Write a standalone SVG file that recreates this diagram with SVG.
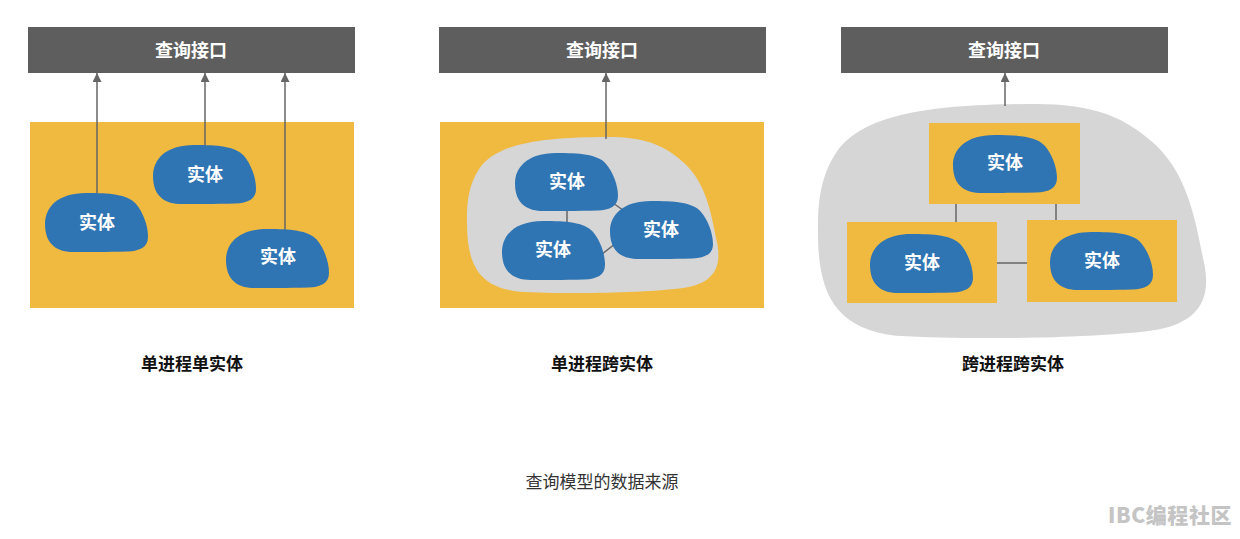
<svg xmlns="http://www.w3.org/2000/svg" xmlns:xlink="http://www.w3.org/1999/xlink" width="1240" height="539" viewBox="0 0 1240 539">
<style>
.bar{fill:#5e5e5e}
.yellow{fill:#f0ba40}
.gray{fill:#d6d6d6}
.ent{fill:#3075b3}
.t{font-family:"Noto Sans CJK SC","Noto Sans",sans-serif;text-anchor:middle}
.wt{fill:#fff;font-size:18px;font-weight:700}
.lbl{fill:#111;font-size:17px;font-weight:700}
.cap{fill:#333;font-size:17px}
.wm{fill:#c4c4c4;font-size:21px;font-weight:900;text-anchor:start;letter-spacing:0.6px}
.arr{stroke:#666;stroke-width:1.5;fill:none;marker-end:url(#ah)}
.ln{stroke:#666;stroke-width:1.5;fill:none}
</style>
<defs>
<marker id="ah" markerUnits="userSpaceOnUse" markerWidth="9" markerHeight="9" viewBox="0 0 10 10" refX="10" refY="5" orient="auto">
<path d="M0,0 L10,5 L0,10 z" fill="#666"/>
</marker>
<path id="eb" d="M40,0 C62,0 80,2 88,18 C95,32 100,55 100,74 C100,92 92,98 80,99 C60,100 40,100 28,100 C12,100 0,88 0,52 C0,25 12,0 40,0 Z"/>
<path id="gb" d="M56,0 C30,0 12,4 5,20 C0,32 0,45 0,55 C0,80 4,96 20,99 C40,101 70,100 85,97 C100,94 101,80 99,66 C97,50 95,28 85,15 C78,5 70,0 56,0 Z"/>
</defs>
<rect width="1240" height="539" fill="#fff"/>

<g id="panel1">
<g id="api1"><rect class="bar" x="28" y="27" width="327" height="46"/><text class="t wt" x="191" y="57">查询接口</text></g>
<rect id="proc1" class="yellow" x="30" y="122" width="324" height="186"/>
</g>
<g id="panel2">
<g id="api2"><rect class="bar" x="439" y="27" width="327" height="46"/><text class="t wt" x="602" y="57">查询接口</text></g>
<rect id="proc2" class="yellow" x="440" y="122" width="324" height="186"/>
<use id="group2" class="gray" xlink:href="#gb" transform="translate(467,137) scale(2.52,1.56)"/>
</g>
<g id="panel3">
<g id="api3"><rect class="bar" x="841" y="27" width="327" height="46"/><text class="t wt" x="1004" y="57">查询接口</text></g>
<use id="group3" class="gray" xlink:href="#gb" transform="translate(818,104) scale(3.89,2.34)"/>
<rect id="proc3a" class="yellow" x="929" y="123" width="151" height="81"/>
<rect id="proc3b" class="yellow" x="847" y="222" width="150" height="81"/>
<rect id="proc3c" class="yellow" x="1027" y="220" width="150" height="82"/>
</g>

<g id="connectors">
<line class="arr" x1="97" y1="196" x2="97" y2="73"/>
<line class="arr" x1="205" y1="148" x2="205" y2="73"/>
<line class="arr" x1="285" y1="232" x2="285" y2="73"/>
<line class="arr" x1="606" y1="139" x2="606" y2="73"/>
<line class="arr" x1="1005" y1="106" x2="1005" y2="73"/>
<line class="ln" x1="567" y1="205" x2="567" y2="226"/>
<line class="ln" x1="606" y1="198" x2="627" y2="213"/>
<line class="ln" x1="597" y1="258" x2="620" y2="240"/>
<line class="ln" x1="956" y1="204" x2="956" y2="222"/>
<line class="ln" x1="1056" y1="204" x2="1056" y2="220"/>
<line class="ln" x1="997" y1="263" x2="1027" y2="263"/>
</g>

<g id="e1"><use class="ent" xlink:href="#eb" transform="translate(45,193) scale(1.03,0.59)"/><text class="t wt" x="97" y="229">实体</text></g>
<g id="e2"><use class="ent" xlink:href="#eb" transform="translate(153,145) scale(1.03,0.59)"/><text class="t wt" x="205" y="181">实体</text></g>
<g id="e3"><use class="ent" xlink:href="#eb" transform="translate(226,229) scale(1.03,0.59)"/><text class="t wt" x="278" y="263">实体</text></g>
<g id="e4"><use class="ent" xlink:href="#eb" transform="translate(515,153) scale(1.03,0.58)"/><text class="t wt" x="567" y="188">实体</text></g>
<g id="e5"><use class="ent" xlink:href="#eb" transform="translate(502,221) scale(1.03,0.59)"/><text class="t wt" x="553" y="256">实体</text></g>
<g id="e6"><use class="ent" xlink:href="#eb" transform="translate(610,201) scale(1.03,0.58)"/><text class="t wt" x="661" y="236">实体</text></g>
<g id="e7"><use class="ent" xlink:href="#eb" transform="translate(953,135) scale(1.04,0.58)"/><text class="t wt" x="1005" y="169">实体</text></g>
<g id="e8"><use class="ent" xlink:href="#eb" transform="translate(870,234) scale(1.03,0.59)"/><text class="t wt" x="922" y="269">实体</text></g>
<g id="e9"><use class="ent" xlink:href="#eb" transform="translate(1050,232) scale(1.03,0.58)"/><text class="t wt" x="1102" y="267">实体</text></g>

<g id="labels">
<text class="t lbl" x="192" y="370">单进程单实体</text>
<text class="t lbl" x="602" y="370">单进程跨实体</text>
<text class="t lbl" x="1013" y="370">跨进程跨实体</text>
<text class="t cap" x="602" y="488">查询模型的数据来源</text>
<text class="t wm" x="1108" y="523">IBC编程社区</text>
</g>
</svg>
